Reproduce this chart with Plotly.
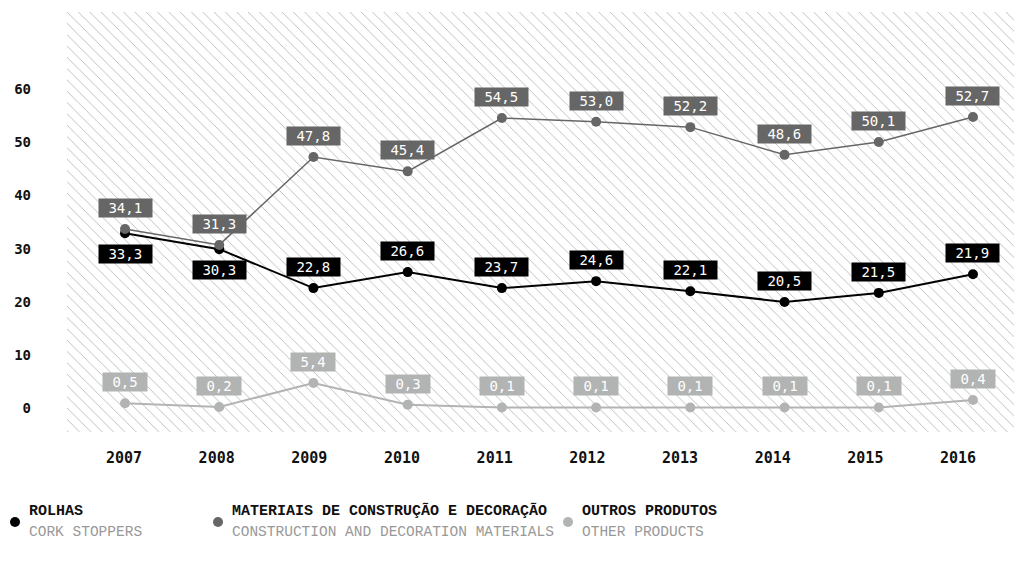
import plotly.graph_objects as go

years = [2007, 2008, 2009, 2010, 2011, 2012, 2013, 2014, 2015, 2016]

# plotted positions (as drawn) and printed labels
rolhas = [32.9, 29.9, 22.6, 25.6, 22.6, 23.9, 22.0, 20.0, 21.7, 25.2]
rolhas_lbl = ["33,3", "30,3", "22,8", "26,6", "23,7", "24,6", "22,1", "20,5", "21,5", "21,9"]
materiais = [33.7, 30.7, 47.2, 44.5, 54.5, 53.8, 52.8, 47.6, 50.0, 54.7]
materiais_lbl = ["34,1", "31,3", "47,8", "45,4", "54,5", "53,0", "52,2", "48,6", "50,1", "52,7"]
outros = [1.0, 0.3, 4.8, 0.7, 0.2, 0.2, 0.2, 0.2, 0.2, 1.6]
outros_lbl = ["0,5", "0,2", "5,4", "0,3", "0,1", "0,1", "0,1", "0,1", "0,1", "0,4"]

names = ["ROLHAS", "MATERIAIS DE CONSTRUÇÃO E DECORAÇÃO", "OUTROS PRODUTOS"]
names_en = ["CORK STOPPERS", "CONSTRUCTION AND DECORATION MATERIALS", "OTHER PRODUCTS"]
colors = ["#000000", "#666666", "#b2b4b4"]

y_ticks = [0, 10, 20, 30, 40, 50, 60]

TICK_RANGE = [2006.385, 2016.647]   # axis carrying the year labels
PT_RANGE = [2006.384, 2016.478]     # axis carrying the points
Y_RANGE = [-4.4, 74.4]

fig = go.Figure()

# hatched background
fig.add_trace(go.Scatter(
    x=[TICK_RANGE[0], TICK_RANGE[1], TICK_RANGE[1], TICK_RANGE[0], TICK_RANGE[0]],
    y=[Y_RANGE[0], Y_RANGE[0], Y_RANGE[1], Y_RANGE[1], Y_RANGE[0]],
    mode="none", fill="toself", fillcolor="white",
    fillpattern=dict(shape="\\", fgcolor="#3a3a3a", bgcolor="white", size=8, solidity=0.08),
    hoverinfo="skip", showlegend=False))

series = [(rolhas, rolhas_lbl), (materiais, materiais_lbl), (outros, outros_lbl)]
widths = [2, 1.5, 2]
for (vals, lbls), name, col, w in zip(series, names, colors, widths):
    fig.add_trace(go.Scatter(
        x=years, y=vals, xaxis="x2", mode="lines+markers", name=name,
        line=dict(color=col, width=w), marker=dict(color=col, size=10),
        showlegend=False))

nbsp = "\u00a0"
for i, (vals, lbls) in enumerate(series):
    for k, (x, v, t) in enumerate(zip(years, vals, lbls)):
        below = i == 0 and abs(v - materiais[k]) < 5
        fig.add_annotation(
            xref="x2", yref="y", x=x, y=v, text=nbsp + t + nbsp, showarrow=False,
            yshift=-21 if below else 21,
            bgcolor=colors[i], borderpad=1,
            font=dict(family="DejaVu Sans Mono", size=14, color="white"))

# legend built from shapes + annotations (screen pixel positions)
leg_x = [15, 218, 568]
for px, name, sub, col in zip(leg_x, names, names_en, colors):
    xp = (px - 67) / 951
    fig.add_shape(
        type="circle", xref="paper", yref="paper",
        xsizemode="pixel", ysizemode="pixel",
        xanchor=xp, yanchor=(432 - 522) / 420,
        x0=-5, x1=5, y0=-5, y1=5,
        fillcolor=col, line=dict(width=0))
    fig.add_annotation(
        xref="paper", yref="paper", x=xp + 12 / 951, y=(432 - 511) / 420,
        text="<b>" + name + "</b>", showarrow=False, xanchor="left", yanchor="middle",
        font=dict(family="Liberation Mono", size=15, color="#111111"))
    fig.add_annotation(
        xref="paper", yref="paper", x=xp + 12 / 951, y=(432 - 532) / 420,
        text=sub, showarrow=False, xanchor="left", yanchor="middle",
        font=dict(family="Liberation Mono", size=14.5, color="#999999"))

# page body adds an 8px offset, so the figure is 8px smaller each way
fig.update_layout(
    width=1014, height=553,
    margin=dict(l=59, r=4, t=4, b=129),
    paper_bgcolor="white", plot_bgcolor="white",
    xaxis=dict(range=TICK_RANGE, tickvals=years, ticktext=[str(y) for y in years],
               showgrid=False, zeroline=False, showline=False, ticks="",
               ticklabelstandoff=15, fixedrange=True,
               tickfont=dict(family="DejaVu Sans Mono", size=15, color="#111111",
                             weight="bold")),
    xaxis2=dict(range=PT_RANGE, overlaying="x", visible=False, fixedrange=True),
    yaxis=dict(range=Y_RANGE, tickvals=y_ticks, showgrid=False, zeroline=False,
               showline=False, ticks="", ticklabelstandoff=35,
               tickfont=dict(family="DejaVu Sans Mono", size=14, color="#111111",
                             weight="bold")),
    showlegend=False,
)

fig.write_html("out.html")
